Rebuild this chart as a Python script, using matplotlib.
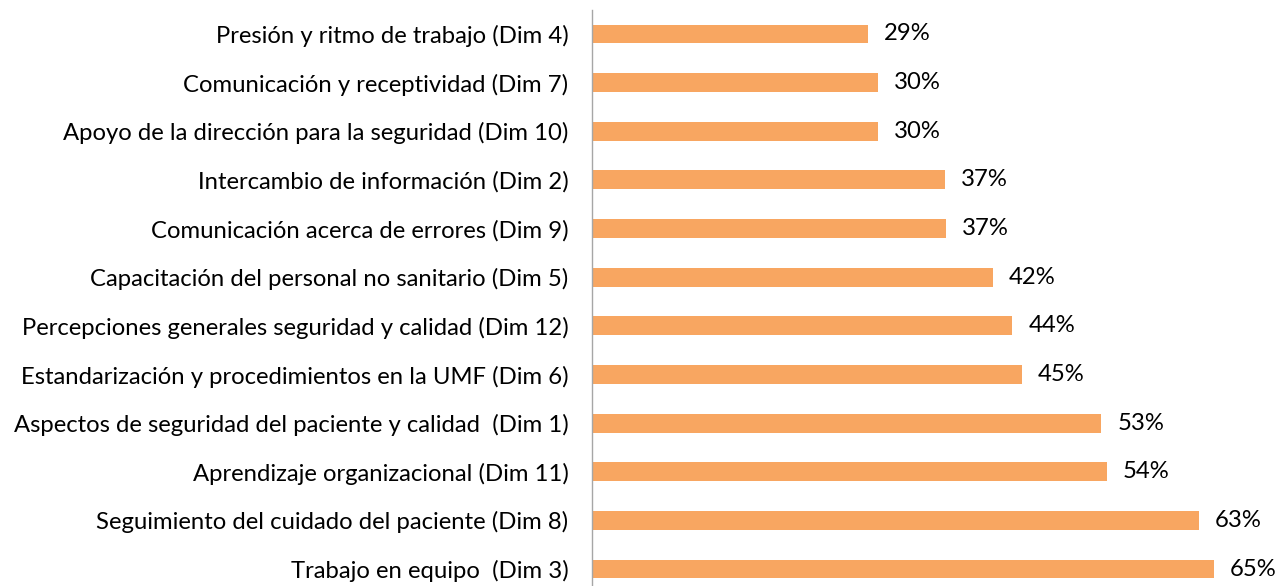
import matplotlib.pyplot as plt
from matplotlib.transforms import offset_copy

dimensiones = [
    "Presión y ritmo de trabajo (Dim 4)",
    "Comunicación y receptividad (Dim 7)",
    "Apoyo de la dirección para la seguridad (Dim 10)",
    "Intercambio de información (Dim 2)",
    "Comunicación acerca de errores (Dim 9)",
    "Capacitación del personal no sanitario (Dim 5)",
    "Percepciones generales seguridad y calidad (Dim 12)",
    "Estandarización y procedimientos en la UMF (Dim 6)",
    "Aspectos de seguridad del paciente y calidad  (Dim 1)",
    "Aprendizaje organizacional (Dim 11)",
    "Seguimiento del cuidado del paciente (Dim 8)",
    "Trabajo en equipo  (Dim 3)",
]
porcentajes = [28.8, 29.9, 29.9, 36.9, 37.0, 41.9, 43.9, 44.9, 53.2, 53.8, 63.4, 65.0]

plt.rcParams['font.family'] = ['Lato', 'DejaVu Sans']

fig = plt.figure(figsize=(12.86, 5.86), dpi=100)
ax = fig.add_axes([0.4605, -0.0125, 0.5395, 0.996])

y = range(len(dimensiones))
ax.barh(y, porcentajes, height=0.39, color="#F8A661")
ax.set_ylim(len(dimensiones) - 0.5, -0.5)
ax.set_xlim(0, 72.5)

ax.set_yticks(list(y))
ax.set_yticklabels(dimensiones, fontsize=17.2)
ax.tick_params(axis='y', length=0, pad=17)
ax.set_xticks([])

for s in ["top", "right", "bottom"]:
    ax.spines[s].set_visible(False)
ax.spines["left"].set_color("#A6A6A6")
ax.spines["left"].set_linewidth(1.0)

trans = offset_copy(ax.transData, fig=fig, x=16, y=0, units='dots')
for i, v in enumerate(porcentajes):
    ax.text(v, i, f"{v:.0f}%", transform=trans, va='center', ha='left', fontsize=17.2)

fig.savefig("out.png", dpi=100)
